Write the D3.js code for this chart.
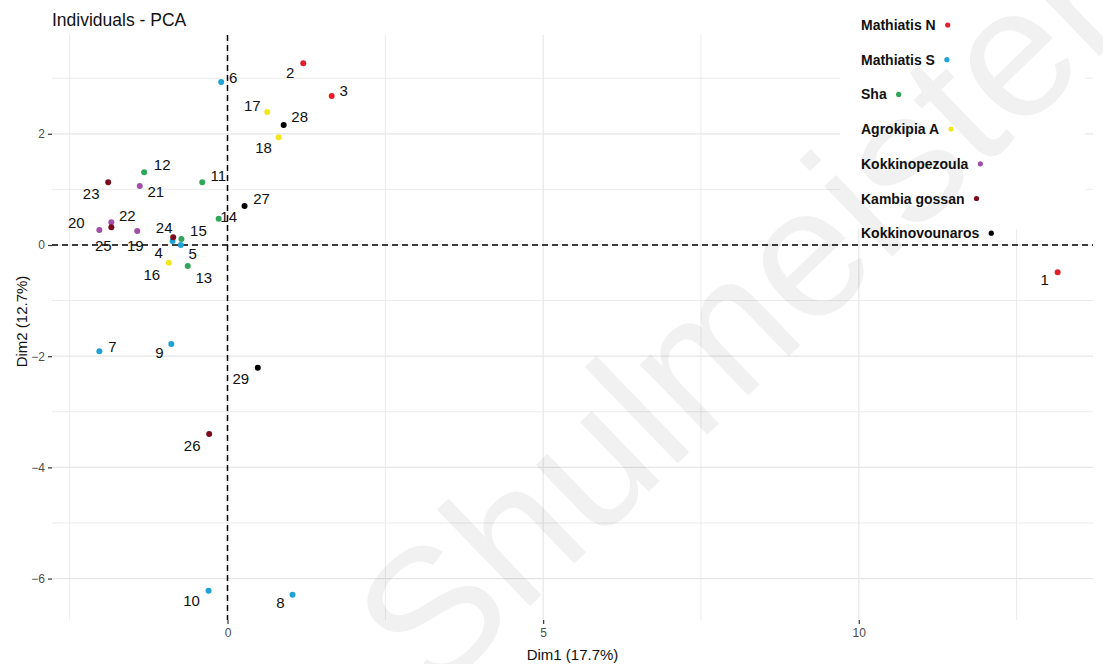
<!DOCTYPE html>
<html>
<head>
<meta charset="utf-8">
<script src="https://cdn.jsdelivr.net/npm/d3@7/dist/d3.min.js"></script>
<style>
  html, body { margin: 0; padding: 0; background: #ffffff; }
  svg { display: block; font-family: "Liberation Sans", Arial, sans-serif; }
</style>
</head>
<body>
<svg id="chart" width="1103" height="664"></svg>
<script>
// Individuals on the first two principal components
const ids   = [1, 2, 3, 4, 5, 6, 7, 8, 9, 10, 11, 12, 13, 14, 15, 16, 17, 18, 19, 20, 21, 22, 23, 24, 25, 26, 27, 28, 29];
const dim1  = [13.15, 1.20, 1.65, -0.87, -0.74, -0.10, -2.03, 1.03, -0.89, -0.30, -0.40, -1.32, -0.63, -0.14, -0.73, -0.93, 0.63, 0.81, -1.43, -2.03, -1.39, -1.84, -1.89, -0.86, -1.84, -0.29, 0.27, 0.89, 0.48];
const dim2  = [-0.49, 3.27, 2.68, 0.07, 0.00, 2.93, -1.91, -6.29, -1.78, -6.22, 1.13, 1.31, -0.38, 0.47, 0.11, -0.32, 2.39, 1.94, 0.25, 0.27, 1.06, 0.41, 1.13, 0.14, 0.32, -3.40, 0.70, 2.16, -2.21];
const group = ["Mathiatis N", "Mathiatis N", "Mathiatis N",
               "Mathiatis S", "Mathiatis S", "Mathiatis S", "Mathiatis S", "Mathiatis S", "Mathiatis S", "Mathiatis S",
               "Sha", "Sha", "Sha", "Sha", "Sha",
               "Agrokipia A", "Agrokipia A", "Agrokipia A",
               "Kokkinopezoula", "Kokkinopezoula", "Kokkinopezoula", "Kokkinopezoula",
               "Kambia gossan", "Kambia gossan", "Kambia gossan", "Kambia gossan",
               "Kokkinovounaros", "Kokkinovounaros", "Kokkinovounaros"];

const groups  = ["Mathiatis N", "Mathiatis S", "Sha", "Agrokipia A", "Kokkinopezoula", "Kambia gossan", "Kokkinovounaros"];
const palette = ["#e0202a", "#1fa2d6", "#2fa65a", "#f3e61c", "#a14fa8", "#7d0b1e", "#000000"];

const xTicks = [0, 5, 10];
const yTicks = [-6, -4, -2, 0, 2];
const xMinor = [-2.5, 2.5, 7.5, 12.5];
const yMinor = [-5, -3, -1, 1, 3];

// Repelled label placement (pixel offsets from each point)
const labelNudge = {
  1: [-13, 7], 2: [-13, 9], 3: [12, -5], 4: [-14, 11], 5: [12, 9], 6: [12, -5],
  7: [13, -5], 8: [-12, 8], 9: [-12, 9], 10: [-17, 10], 11: [16, -7], 12: [18, -8],
  13: [16, 11], 14: [10, -2], 15: [17, -8], 16: [-17, 12], 17: [-15, -7], 18: [-15, 10],
  19: [-2, 14], 20: [-23, -7], 21: [16, 5], 22: [16, -7], 23: [-17, 11], 24: [-9, -10],
  25: [-8, 18], 26: [-17, 11], 27: [17, -8], 28: [16, -8], 29: [-17, 11]
};

const svg = d3.select("#chart");
const panel = { left: 52, right: 1093, top: 35, bottom: 620 };

const x = d3.scaleLinear().domain([-2.78, 13.71]).range([panel.left, panel.right]);
const y = d3.scaleLinear().domain([-6.745, 3.777]).range([panel.bottom, panel.top]);
const color = d3.scaleOrdinal().domain(groups).range(palette);

const points = ids.map((id, i) => ({ id, x: dim1[i], y: dim2[i], g: group[i] }));

// grid
const grid = svg.append("g");
grid.selectAll(".vminor").data(xMinor).join("line")
  .attr("x1", d => x(d)).attr("x2", d => x(d))
  .attr("y1", panel.top).attr("y2", panel.bottom)
  .attr("stroke", "#ebebeb").attr("stroke-width", 1);
grid.selectAll(".hminor").data(yMinor).join("line")
  .attr("y1", d => y(d)).attr("y2", d => y(d))
  .attr("x1", panel.left).attr("x2", panel.right)
  .attr("stroke", "#ebebeb").attr("stroke-width", 1);
grid.selectAll(".vmajor").data(xTicks).join("line")
  .attr("x1", d => x(d)).attr("x2", d => x(d))
  .attr("y1", panel.top).attr("y2", panel.bottom)
  .attr("stroke", "#e6e6e6").attr("stroke-width", 1.2);
grid.selectAll(".hmajor").data(yTicks).join("line")
  .attr("y1", d => y(d)).attr("y2", d => y(d))
  .attr("x1", panel.left).attr("x2", panel.right)
  .attr("stroke", "#e6e6e6").attr("stroke-width", 1.2);

// axes
const xAxis = svg.append("g")
  .attr("transform", `translate(0,${panel.bottom})`)
  .call(d3.axisBottom(x).tickValues(xTicks).tickSize(4).tickPadding(4).tickFormat(d3.format("d")));
const yAxis = svg.append("g")
  .attr("transform", `translate(${panel.left},0)`)
  .call(d3.axisLeft(y).tickValues(yTicks).tickSize(4).tickPadding(3).tickFormat(d3.format("d")));
[xAxis, yAxis].forEach(a => {
  a.select(".domain").remove();
  a.selectAll(".tick line").attr("stroke", "#333333").attr("stroke-width", 1.2);
  a.selectAll(".tick text").attr("fill", "#4d4d4d").style("font-size", "12px")
    .style("font-family", "'Liberation Sans', Arial, sans-serif");
});

// reference lines through the origin
svg.append("line")
  .attr("x1", panel.left).attr("x2", panel.right)
  .attr("y1", y(0)).attr("y2", y(0))
  .attr("stroke", "#000").attr("stroke-width", 1.5).attr("stroke-dasharray", "6,4");
svg.append("line")
  .attr("x1", x(0)).attr("x2", x(0))
  .attr("y1", panel.top).attr("y2", panel.bottom)
  .attr("stroke", "#000").attr("stroke-width", 1.5).attr("stroke-dasharray", "6,4");

// points
svg.append("g").selectAll("circle").data(points).join("circle")
  .attr("cx", d => x(d.x)).attr("cy", d => y(d.y))
  .attr("r", 3).attr("fill", d => color(d.g));

// labels
svg.append("g").selectAll("text").data(points).join("text")
  .attr("x", d => x(d.x) + labelNudge[d.id][0])
  .attr("y", d => y(d.y) + labelNudge[d.id][1])
  .attr("text-anchor", "middle").attr("dominant-baseline", "central")
  .style("font-size", "15px").attr("fill", "#111")
  .text(d => d.id);

// title and axis titles
svg.append("text").attr("x", 52).attr("y", 26)
  .style("font-size", "17.5px").attr("fill", "#111").text("Individuals - PCA");
svg.append("text").attr("x", (panel.left + panel.right) / 2).attr("y", 660)
  .attr("text-anchor", "middle").style("font-size", "15px").attr("fill", "#111")
  .text("Dim1 (17.7%)");
svg.append("text")
  .attr("transform", `translate(27,${(panel.top + panel.bottom) / 2 - 6}) rotate(-90)`)
  .attr("text-anchor", "middle").style("font-size", "15px").attr("fill", "#111")
  .text("Dim2 (12.7%)");

// legend
const legend = svg.append("g");
legend.append("rect").attr("x", 840).attr("y", 0).attr("width", 245).attr("height", 229).attr("fill", "#fff");
const items = legend.selectAll("g.item").data(groups).join("g")
  .attr("transform", (d, i) => `translate(861,${25 + i * 34.7})`);
items.append("text").attr("x", 0).attr("y", 0).attr("dominant-baseline", "central")
  .style("font-size", "14px").style("font-weight", "bold").attr("fill", "#111")
  .text(d => d);
items.each(function(d) {
  const g = d3.select(this);
  const w = g.select("text").node().getComputedTextLength();
  g.append("circle").attr("cx", w + 12).attr("cy", 0).attr("r", 2.6).attr("fill", color(d));
});

// watermark
svg.append("text")
  .attr("transform", "translate(432,701) rotate(-44)")
  .attr("text-anchor", "start")
  .style("font-size", "185px").attr("fill", "#000").attr("fill-opacity", 0.055)
  .text("Shulmeister");
</script>
</body>
</html>
